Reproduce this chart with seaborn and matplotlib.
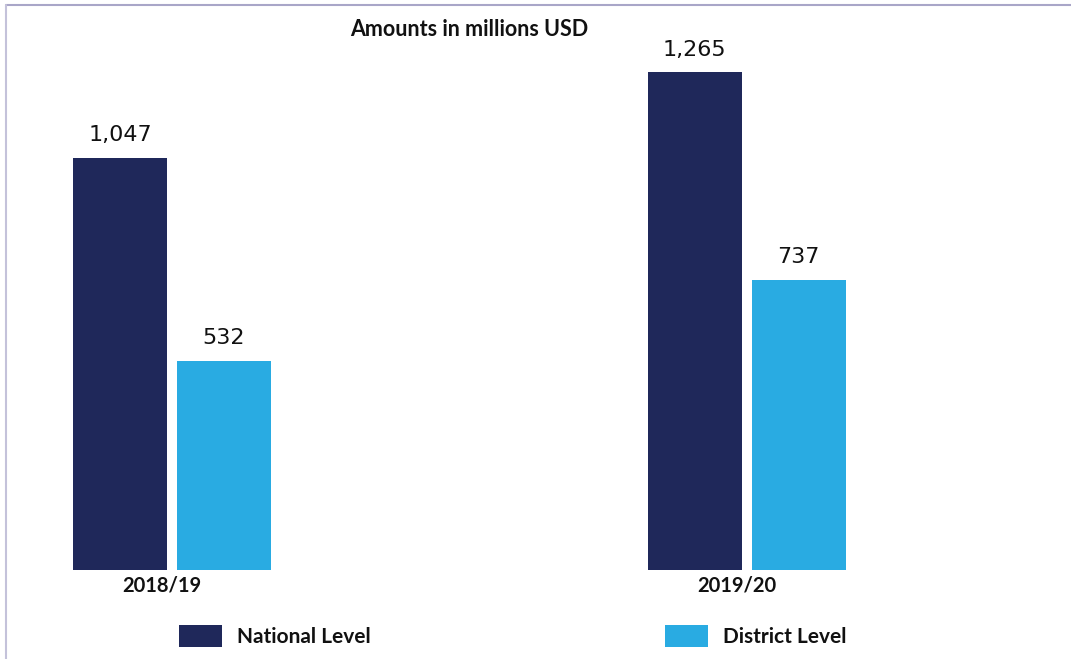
import matplotlib
matplotlib.use("Agg")
import matplotlib.pyplot as plt
import matplotlib.transforms as mtransforms
from matplotlib.lines import Line2D
import seaborn as sns
import pandas as pd

years = ["2018/19", "2019/20"]
levels = ["National Level", "District Level"]
national = [1047, 1265]
district = [532, 737]
colors = ["#1f285a", "#29abe2"]

df = pd.DataFrame({
    "year": years * 2,
    "level": [levels[0]] * 2 + [levels[1]] * 2,
    "value": national + district,
})

sns.set_theme(style="white")
plt.rcParams["font.family"] = ["Lato", "DejaVu Sans"]

W, H = 1071, 659
fig = plt.figure(figsize=(W / 100, H / 100), dpi=100)
ax = fig.add_axes([0, 89 / H, 1, 570 / H])

sns.barplot(data=df, x="year", y="value", hue="level", hue_order=levels,
            palette=colors, saturation=1, width=0.362, gap=0.096,
            linewidth=0, ax=ax)

ax.set_xlim(-0.2994, 1.5648)
ax.set_ylim(0, 1448)
for s in ax.spines.values():
    s.set_visible(False)
ax.set_yticks([])
ax.set_xlabel("")
ax.set_ylabel("")
ax.tick_params(axis="x", length=0, pad=4, labelsize=14.5)
offset = mtransforms.ScaledTranslation(-10 / 100, 0, fig.dpi_scale_trans)
for lab in ax.get_xticklabels():
    lab.set_fontweight("bold")
    lab.set_color("#111111")
    lab.set_transform(lab.get_transform() + offset)

for cont in ax.containers:
    ax.bar_label(cont, labels=[f"{v:,.0f}" for v in cont.datavalues],
                 padding=9, fontsize=16, color="#111111", family="DejaVu Sans")

handles, labels_ = ax.get_legend_handles_labels()
ax.get_legend().remove()
fs_leg = 15
leg_pos = [(179 / W, 636 / H), (665 / W, 636 / H)]
for h, l, (lx, ly) in zip(handles, labels_, leg_pos):
    leg = fig.legend([h], [l], loc="center left", bbox_to_anchor=(lx, 1 - ly),
                     frameon=False, fontsize=fs_leg, handlelength=43 / (fs_leg * 100 / 72),
                     handleheight=25 / (fs_leg * 100 / 72),
                     handletextpad=0.7, borderpad=0, borderaxespad=0)
    for t in leg.get_texts():
        t.set_fontweight("bold")
        t.set_color("#111111")

fig.text(469 / W, 1 - 30 / H, "Amounts in millions USD", ha="center", va="center",
         fontsize=15.5, fontweight="bold", color="#111111")

# frame lines
fig.add_artist(Line2D([6 / W, 1], [1 - 5 / H, 1 - 5 / H], color="#a9a6c8", lw=1.5))
fig.add_artist(Line2D([6 / W, 6 / W], [0, 1 - 5 / H], color="#c4c2da", lw=1.5))

fig.savefig("out.png", dpi=100)
